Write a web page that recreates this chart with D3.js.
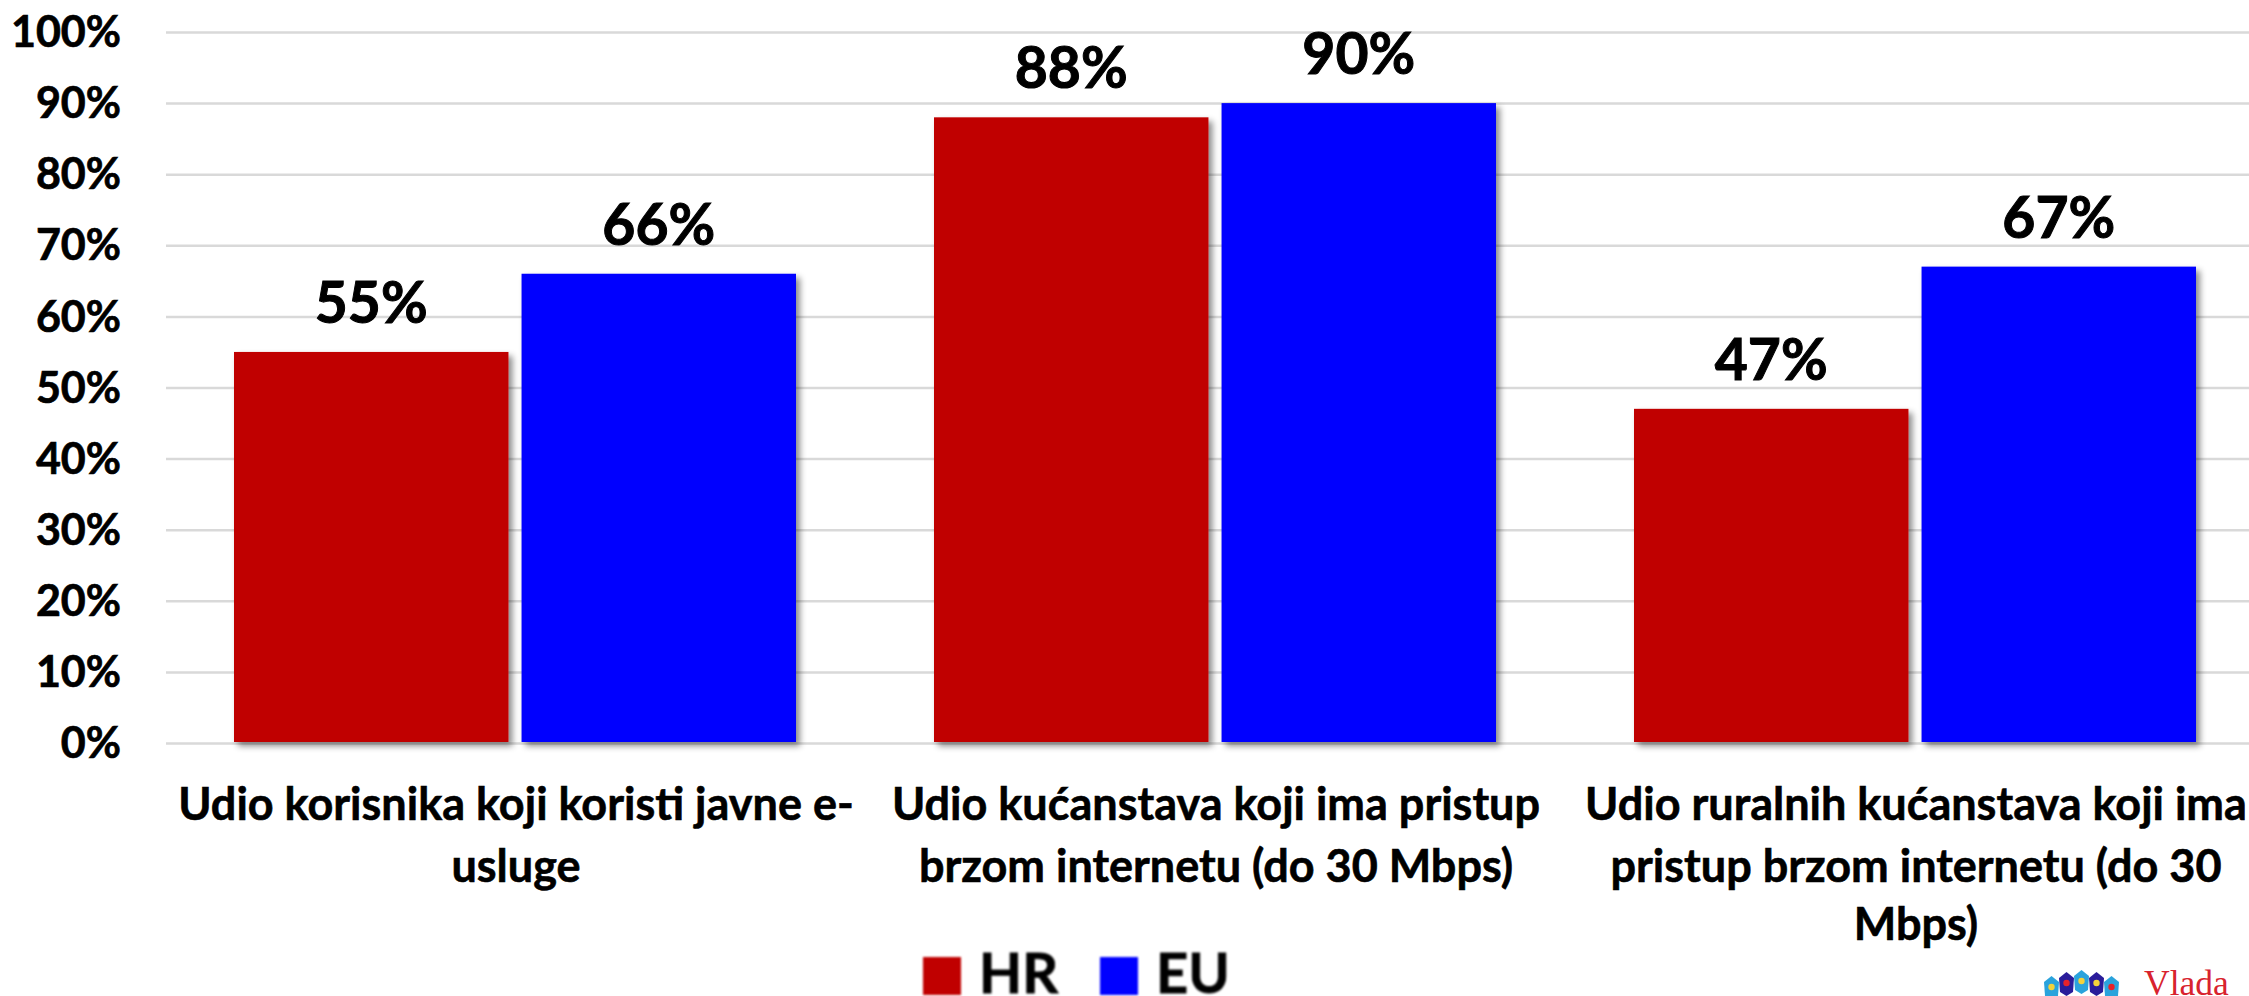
<!DOCTYPE html>
<html><head><meta charset="utf-8">
<script src="https://cdnjs.cloudflare.com/ajax/libs/d3/7.8.5/d3.min.js"></script>
<style>html,body{margin:0;padding:0;background:#fff;overflow:hidden}svg{display:block}text{font-family:Lato,"Open Sans",sans-serif;font-weight:700;fill:#000}</style>
</head><body><svg id="c" width="2249" height="996"></svg>
<script>
const categories = [
  ["Udio korisnika koji koristi javne e-","usluge"],
  ["Udio kućanstava koji ima pristup","brzom internetu (do 30 Mbps)"],
  ["Udio ruralnih kućanstava koji ima","pristup brzom internetu (do 30","Mbps)"]
];
const seriesNames = ["HR","EU"];
const seriesColors = ["#C00000","#0000FF"];
const hrValues = [55,88,47];
const euValues = [66,90,67];
const yTicks = [0,10,20,30,40,50,60,70,80,90,100];

const svg = d3.select("#c");
const defs = svg.append("defs");
const sh = defs.append("filter").attr("id","sh").attr("x","-5%").attr("y","-5%").attr("width","115%").attr("height","115%");
sh.append("feDropShadow").attr("dx",4).attr("dy",4).attr("stdDeviation",3).attr("flood-color","#000").attr("flood-opacity",0.45);
defs.append("filter").attr("id","bl").append("feGaussianBlur").attr("stdDeviation",0.9);
defs.append("filter").attr("id","bl2").append("feGaussianBlur").attr("stdDeviation",0.5);

const y = d3.scaleLinear().domain([0,100]).range([743,32]);
const x0 = d3.scaleBand().domain(d3.range(categories.length)).range([166,2266]);
const x1 = d3.scaleBand().domain(seriesNames).range([68,630]).paddingInner(0.0455);

const yAxis = svg.append("g").attr("transform","translate(166,0)")
  .call(d3.axisLeft(y).tickValues(yTicks).tickFormat(d=>d+"%").tickSize(-2100).tickPadding(45));
yAxis.select(".domain").remove();
yAxis.selectAll(".tick line").attr("stroke","#D9D9D9").attr("stroke-width",2.5);
yAxis.selectAll(".tick text").attr("font-size",43).attr("font-family","Lato").attr("font-weight",700).attr("fill","#000")
  .attr("stroke","#000").attr("stroke-width",0.7).attr("dy","0.34em");

const series = [hrValues,euValues];
series.forEach((vals,s)=>{
  const name = seriesNames[s];
  const g = svg.append("g");
  g.selectAll("rect").data(vals).join("rect")
    .attr("x",(d,i)=>x0(i)+x1(name)).attr("y",d=>y(d))
    .attr("width",x1.bandwidth()).attr("height",d=>y(0)-y(d)-1)
    .attr("fill",seriesColors[s]).attr("filter","url(#sh)");
  g.selectAll("text").data(vals).join("text")
    .attr("x",(d,i)=>x0(i)+x1(name)+x1.bandwidth()/2).attr("y",d=>y(d)-29)
    .attr("text-anchor","middle").attr("font-size",57).attr("stroke","#000").attr("stroke-width",1).text(d=>d+"%");
});

const lineY = [820,882,940];
categories.forEach((lines,i)=>{
  svg.append("g").selectAll("text").data(lines).join("text")
    .attr("x",x0(i)+x0.bandwidth()/2).attr("y",(d,j)=>lineY[j])
    .attr("text-anchor","middle").attr("font-size",45).attr("stroke","#000").attr("stroke-width",0.6).text(d=>d);
});

const legend = svg.append("g").attr("filter","url(#bl)");
const legendX = d3.scaleOrdinal().domain(seriesNames).range([923,1100]);
seriesNames.forEach((n,i)=>{
  legend.append("rect").attr("x",legendX(n)).attr("y",957).attr("width",38).attr("height",38).attr("fill",seriesColors[i]);
  legend.append("text").attr("x",legendX(n)+56).attr("y",993).attr("font-size",56).attr("stroke","#000").attr("stroke-width",0.8).text(n);
});

// Logo: row of small shields and the clipped wordmark
const shields = [["#2BA3DC",2044,976,"#F4D23A"],["#2A1F9A",2059,972,"#E8232A"],["#2BA3DC",2074,970,"#F4D23A"],["#2A1F9A",2089,972,"#F4D23A"],["#2BA3DC",2104,976,"#E8232A"]];
const logo = svg.append("g").attr("filter","url(#bl2)");
logo.selectAll("path").data(shields).join("path")
  .attr("d",d=>{const h=d[1],t=d[2];return `M${h} ${t+6} L${h+7.5} ${t} L${h+15} ${t+6} L${h+14} ${t+20} L${h+7.5} ${t+24} L${h+1} ${t+20} Z`;})
  .attr("fill",d=>d[0]);
logo.selectAll("circle").data(shields).join("circle")
  .attr("cx",d=>d[1]+7.5).attr("cy",d=>d[2]+11).attr("r",3.2).attr("fill",d=>d[3]);
svg.append("text").attr("x",2144).attr("y",995).attr("font-size",35.5)
  .style("font-family","'Liberation Serif',serif").style("font-weight",400).style("fill","#D8232E").text("Vlada");
</script></body></html>
